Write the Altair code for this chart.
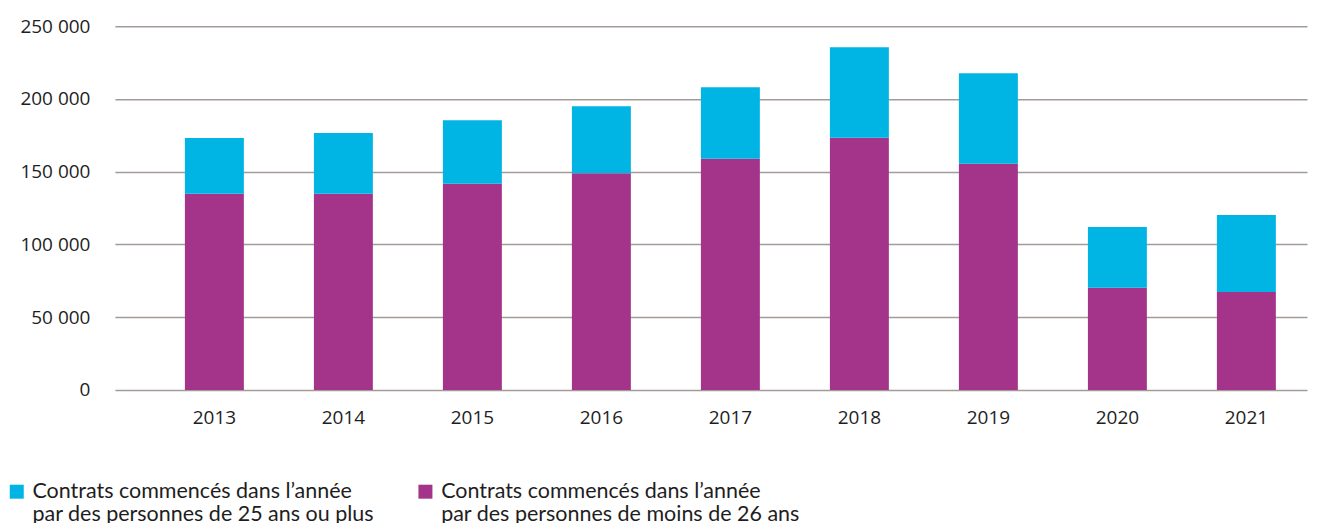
import altair as alt
import pandas as pd

years = ["2013", "2014", "2015", "2016", "2017", "2018", "2019", "2020", "2021"]
moins26 = [134800, 134800, 141700, 149000, 158900, 173300, 155400, 70300, 67300]
plus25 = [38300, 41700, 43700, 46000, 49200, 62300, 62300, 41700, 52900]

lab_plus25 = "Contrats commencés dans l’année\npar des personnes de 25 ans ou plus"
lab_moins26 = "Contrats commencés dans l’année\npar des personnes de moins de 26 ans"
series_labels = [lab_plus25, lab_moins26]
series_colors = ["#00B4E4", "#A4338A"]
y_ticks = [0, 50000, 100000, 150000, 200000, 250000]

rows = []
for i, yr in enumerate(years):
    rows.append({"annee": yr, "serie": lab_moins26, "valeur": moins26[i], "ord": 0})
    rows.append({"annee": yr, "serie": lab_plus25, "valeur": plus25[i], "ord": 1})
df = pd.DataFrame(rows)

grid_color = "#a39b97"

chart = alt.Chart(df).mark_bar().encode(
    x=alt.X("annee:N", title=None,
            scale=alt.Scale(paddingInner=0.543, paddingOuter=0.392, align=0.692),
            axis=alt.Axis(labelAngle=0, labelFont="Open Sans", labelFontSize=19,
                          labelColor="#1e1e1e", labelPadding=19, ticks=False, domain=False,
                          grid=False)),
    y=alt.Y("valeur:Q", title=None, stack="zero",
            scale=alt.Scale(domain=[0, 250000], nice=False),
            axis=alt.Axis(values=y_ticks,
                          labelExpr="replace(format(datum.value, ','), ',', ' ')",
                          labelFont="Open Sans", labelFontSize=19, labelColor="#1e1e1e",
                          labelPadding=25, ticks=False, domain=False,
                          grid=True, gridColor=grid_color, gridWidth=1.5)),
    color=alt.Color("serie:N", title=None,
                    scale=alt.Scale(domain=series_labels, range=series_colors),
                    legend=alt.Legend(orient="none", legendX=-109, legendY=444,
                                      direction="horizontal", columns=2,
                                      symbolType="M-1,0.57H1V2.57H-1Z", symbolSize=196,
                                      symbolStrokeWidth=0, labelFont="Lato",
                                      labelFontSize=21.5, labelColor="#1e1e1e",
                                      labelLimit=500, labelOffset=5,
                                      labelBaseline="top",
                                      columnPadding=40,
                                      labelExpr="split(datum.label, '\\n')")),
    order=alt.Order("ord:Q"),
).properties(
    width=1193, height=364,
    autosize=alt.AutoSizeParams(type="none"),
    padding={"left": 107, "top": 18, "right": 8, "bottom": 140},
).configure_view(stroke=None)

chart.save("out.html", embed_options={"renderer": "svg", "actions": False})
